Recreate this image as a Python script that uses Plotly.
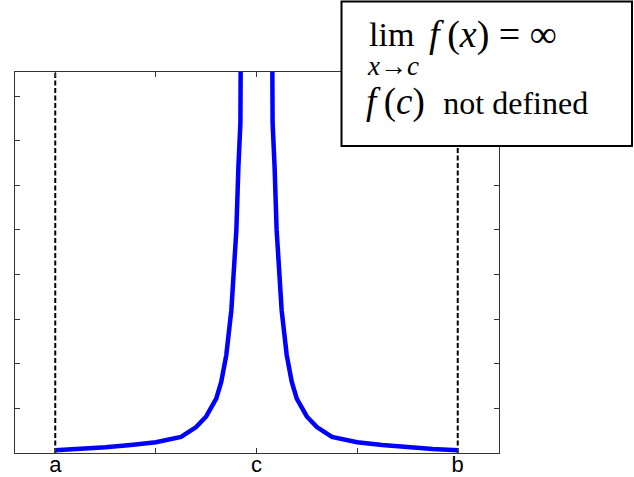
import plotly.graph_objects as go

# tick positions / labels (a = 0, c = 2, b = 4)
tick_vals = [0, 1, 2, 3, 4]
tick_text = ["a", "", "c", "", "b"]
y_ticks = [0, 1, 2, 3, 4, 5, 6, 7, 8]

# dashed bounds at a and b
bound_x = [0, 4]

# left branch of f
x_left = [0.0, 0.25, 0.5, 0.75, 1.0, 1.25, 1.4, 1.5, 1.6, 1.65, 1.7, 1.75, 1.8, 1.82, 1.84, 1.85]
y_left = [0.06, 0.09, 0.13, 0.18, 0.24, 0.36, 0.58, 0.82, 1.22, 1.6, 2.2, 3.2, 5.0, 6.4, 7.4, 12.0]

# right branch of f
x_right = [2.15, 2.16, 2.18, 2.2, 2.25, 2.3, 2.35, 2.4, 2.5, 2.6, 2.75, 3.0, 3.25, 3.5, 3.75, 4.0]
y_right = [12.0, 7.4, 6.4, 5.0, 3.2, 2.2, 1.6, 1.22, 0.82, 0.58, 0.36, 0.24, 0.18, 0.13, 0.09, 0.06]

W, H = 634, 477
L, R, T, B = 15, 135, 72, 24


def px(x, y):
    # pixel position -> paper coords
    return (x - L) / (W - L - R), (H - B - y) / (H - T - B)


fig = go.Figure()

for xb in bound_x:
    fig.add_trace(go.Scatter(x=[xb, xb], y=[0, 9], mode="lines",
                             line=dict(color="black", width=2, dash="5px,2.5px"),
                             hoverinfo="skip", showlegend=False))

fig.add_trace(go.Scatter(x=x_left, y=y_left, mode="lines",
                         line=dict(color="#0000ff", width=4.5), showlegend=False))
fig.add_trace(go.Scatter(x=x_right, y=y_right, mode="lines",
                         line=dict(color="#0000ff", width=4.5), showlegend=False))

# text box
x0, y0 = px(341.5, 146)
x1, y1 = px(632, 1.5)
fig.add_shape(type="rect", xref="paper", yref="paper", x0=x0, y0=y0, x1=x1, y1=y1,
              line=dict(color="black", width=2), fillcolor="white", layer="above")

serif = "Liberation Serif"
ax, ay = px(367, 34)
fig.add_annotation(x=ax, y=ay, xref="paper", yref="paper", xanchor="left", yanchor="middle",
                   text="lim", showarrow=False, font=dict(family=serif, size=34, color="black"))
ax, ay = px(427, 34)
fig.add_annotation(x=ax, y=ay, xref="paper", yref="paper", xanchor="left", yanchor="middle",
                   text="<i>f</i>\u2009(<i>x</i>) = ∞", showarrow=False,
                   font=dict(family=serif, size=38, color="black"))
ax, ay = px(365, 66)
fig.add_annotation(x=ax, y=ay, xref="paper", yref="paper", xanchor="left", yanchor="middle",
                   text="<i>x</i>→<i>c</i>", showarrow=False,
                   font=dict(family=serif, size=27, color="black"))
ax, ay = px(364, 102)
fig.add_annotation(x=ax, y=ay, xref="paper", yref="paper", xanchor="left", yanchor="middle",
                   text="<i>f</i>\u2009(<i>c</i>)  <span style='font-size:32px'>not defined</span>",
                   showarrow=False, font=dict(family=serif, size=37, color="black"))

axis_common = dict(showline=True, linecolor="#333333", linewidth=1, mirror="ticks",
                   ticks="inside", ticklen=5, tickcolor="#333333", showgrid=False,
                   zeroline=False, automargin=False)

fig.update_xaxes(range=[-0.4, 4.41], tickvals=tick_vals, ticktext=tick_text,
                 tickfont=dict(family="Liberation Sans", size=22, color="black"),
                 ticklabelstandoff=-8, **axis_common)
fig.update_yaxes(range=[0, 8.54], tickvals=y_ticks, showticklabels=False, **axis_common)

fig.update_layout(width=W, height=H, margin=dict(l=L, r=R, t=T, b=B),
                  plot_bgcolor="white", paper_bgcolor="white", showlegend=False)

# the page body has a default 8px margin; drop it so the figure sits at the corner
fig.write_html("out.html", config={"displayModeBar": False},
               post_script="document.body.style.margin='0px';")
